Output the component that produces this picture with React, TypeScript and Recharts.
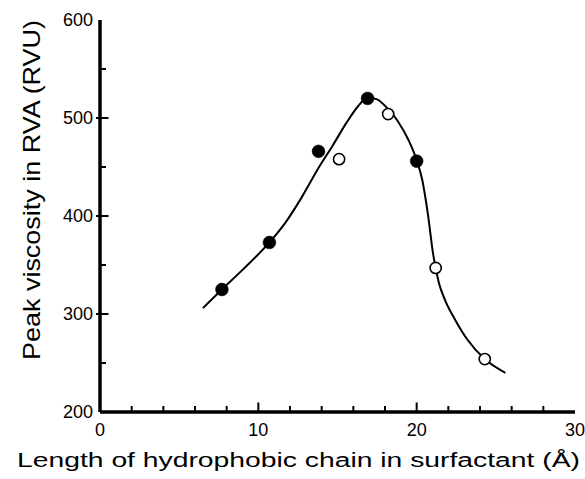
import React from "react";
import { ComposedChart, Line, Scatter, XAxis, YAxis, Label, ReferenceLine } from "recharts";

const curveX = [6.5, 7.7, 9.0, 10.7, 11.7, 12.7, 13.8, 14.7, 15.6, 16.3, 16.9, 17.5, 18.2, 18.8, 19.5, 20.0, 20.35, 20.7, 21.05, 21.4, 21.8, 22.4, 23.2, 24.3, 25.6];
const curveY = [306, 325, 345, 373, 393, 418, 449, 472, 496, 512, 521, 519, 509, 497, 477, 457, 437, 403, 360, 332, 314, 295, 274, 254, 240];

const filledX = [7.7, 10.7, 13.8, 16.9, 20.0];
const filledY = [325, 373, 466, 520, 456];

const openX = [15.1, 18.2, 21.2, 24.3];
const openY = [458, 504, 347, 254];

const xTicks = [0, 2, 4, 6, 8, 10, 12, 14, 16, 18, 20, 22, 24, 26, 28, 30];
const xLabels = [0, 10, 20, 30];
const yTicks = [200, 250, 300, 350, 400, 450, 500, 550, 600];
const yLabels = [200, 300, 400, 500, 600];

const xTitle = "Length of hydrophobic chain in surfactant (Å)";
const yTitle = "Peak viscosity in RVA (RVU)";

const FONT = "'Liberation Sans', Arial, Helvetica, sans-serif";

const X_MIN = 0;
const X_MAX = 30;
const Y_MIN = 200;
const Y_MAX = 600;

const curveData = curveX.map((x, i) => ({ x, y: curveY[i] }));
const filledData = filledX.map((x, i) => ({ x, y: filledY[i] }));
const openData = openX.map((x, i) => ({ x, y: openY[i] }));

const xTickMarks = xTicks
  .filter((t) => t > X_MIN && t < X_MAX)
  .map((t) => ({ x: t, y: Y_MIN, major: xLabels.includes(t) }));
const yTickMarks = yTicks
  .filter((t) => t > Y_MIN && t < Y_MAX)
  .map((t) => ({ x: X_MIN, y: t, major: yLabels.includes(t) }));

const XTick = (props: any) => {
  const { x, y, payload } = props;
  const v = payload.value;
  if (!xLabels.includes(v)) return <g />;
  return (
    <text x={x} y={y + 24} textAnchor="middle" fontSize={18} fontFamily={FONT} fill="#000" stroke="none">
      {v}
    </text>
  );
};

const YTick = (props: any) => {
  const { x, y, payload } = props;
  const v = payload.value;
  if (!yLabels.includes(v)) return <g />;
  return (
    <text x={x - 7} y={y + 6} textAnchor="end" fontSize={18} fontFamily={FONT} fill="#000" stroke="none">
      {v}
    </text>
  );
};

const XTickMark = (props: any) => {
  const { cx, cy } = props;
  const major = props.payload ? props.payload.major : props.major;
  const y1 = cy + (major ? 1 : 0);
  const y2 = cy - (major ? 9.5 : 6);
  return <path d={`M${cx},${y1}L${cx},${y2}`} stroke="#000" strokeWidth={2} fill="none" />;
};

const YTickMark = (props: any) => {
  const { cx, cy } = props;
  const major = props.payload ? props.payload.major : props.major;
  const x1 = major ? cx - 4 : cx;
  const x2 = major ? cx + 8.5 : cx + 6;
  return <path d={`M${x1},${cy}L${x2},${cy}`} stroke="#000" strokeWidth={2} fill="none" />;
};

const OpenDot = (props: any) => {
  const { cx, cy } = props;
  return <circle cx={cx} cy={cy} r={5.6} fill="#fff" stroke="#000" strokeWidth={1.6} />;
};

const FilledDot = (props: any) => {
  const { cx, cy } = props;
  return <circle cx={cx} cy={cy} r={6.4} fill="#000" stroke="#000" strokeWidth={0.5} />;
};

export default function App() {
  return (
    <div style={{ position: "absolute", left: 0, top: 0, background: "#fff" }}>
      <ComposedChart width={585} height={479} margin={{ top: 20, right: 10, bottom: 0, left: 0 }}>
        <XAxis
          xAxisId="top"
          orientation="top"
          type="number"
          domain={[X_MIN, X_MAX]}
          height={0}
          tick={false}
          tickLine={false}
          axisLine={{ stroke: "#000", strokeWidth: 2 }}
        />
        <YAxis
          yAxisId="right"
          orientation="right"
          type="number"
          domain={[Y_MIN, Y_MAX]}
          width={0}
          tick={false}
          tickLine={false}
          axisLine={{ stroke: "#000", strokeWidth: 1.6 }}
        />
        <XAxis
          type="number"
          dataKey="x"
          domain={[X_MIN, X_MAX]}
          ticks={xTicks}
          interval={0}
          height={67}
          tickLine={false}
          tickSize={0}
          tickMargin={0}
          tick={<XTick />}
          axisLine={{ stroke: "#000", strokeWidth: 3 }}
        >
          <Label
            content={(p: any) => {
              const vb = p.viewBox || { x: 100, y: 412, width: 475 };
              return (
                <text
                  x={vb.x + vb.width / 2 - 39}
                  y={vb.y + 55}
                  textAnchor="middle"
                  fontSize={20}
                  fontFamily={FONT}
                  fill="#000"
                  textLength={563}
                  lengthAdjust="spacingAndGlyphs"
                >
                  {xTitle}
                </text>
              );
            }}
          />
        </XAxis>
        <YAxis
          type="number"
          dataKey="y"
          domain={[Y_MIN, Y_MAX]}
          ticks={yTicks}
          interval={0}
          width={100}
          tickLine={false}
          tickSize={0}
          tickMargin={0}
          tick={<YTick />}
          axisLine={{ stroke: "#000", strokeWidth: 3 }}
        >
          <Label
            content={(p: any) => {
              const vb = p.viewBox || { x: 0, y: 20, width: 100, height: 392 };
              const cx = vb.x + 40;
              const cy = vb.y + 170;
              return (
                <text
                  x={cx}
                  y={cy}
                  transform={`rotate(-90, ${cx}, ${cy})`}
                  textAnchor="middle"
                  fontSize={24}
                  fontFamily={FONT}
                  fill="#000"
                  textLength={340}
                  lengthAdjust="spacingAndGlyphs"
                >
                  {yTitle}
                </text>
              );
            }}
          />
        </YAxis>
        <ReferenceLine y={Y_MIN} stroke="#000" strokeWidth={3} ifOverflow="visible" />
        <ReferenceLine x={X_MIN} stroke="#000" strokeWidth={3} ifOverflow="visible" />
        <Scatter data={xTickMarks} dataKey="y" shape={<XTickMark />} isAnimationActive={false} />
        <Scatter data={yTickMarks} dataKey="y" shape={<YTickMark />} isAnimationActive={false} />
        <Line
          data={curveData}
          dataKey="y"
          type="monotone"
          stroke="#000"
          strokeWidth={2}
          dot={false}
          activeDot={false}
          isAnimationActive={false}
        />
        <Scatter data={filledData} dataKey="y" shape={<FilledDot />} isAnimationActive={false} />
        <Scatter data={openData} dataKey="y" shape={<OpenDot />} isAnimationActive={false} />
      </ComposedChart>
    </div>
  );
}
